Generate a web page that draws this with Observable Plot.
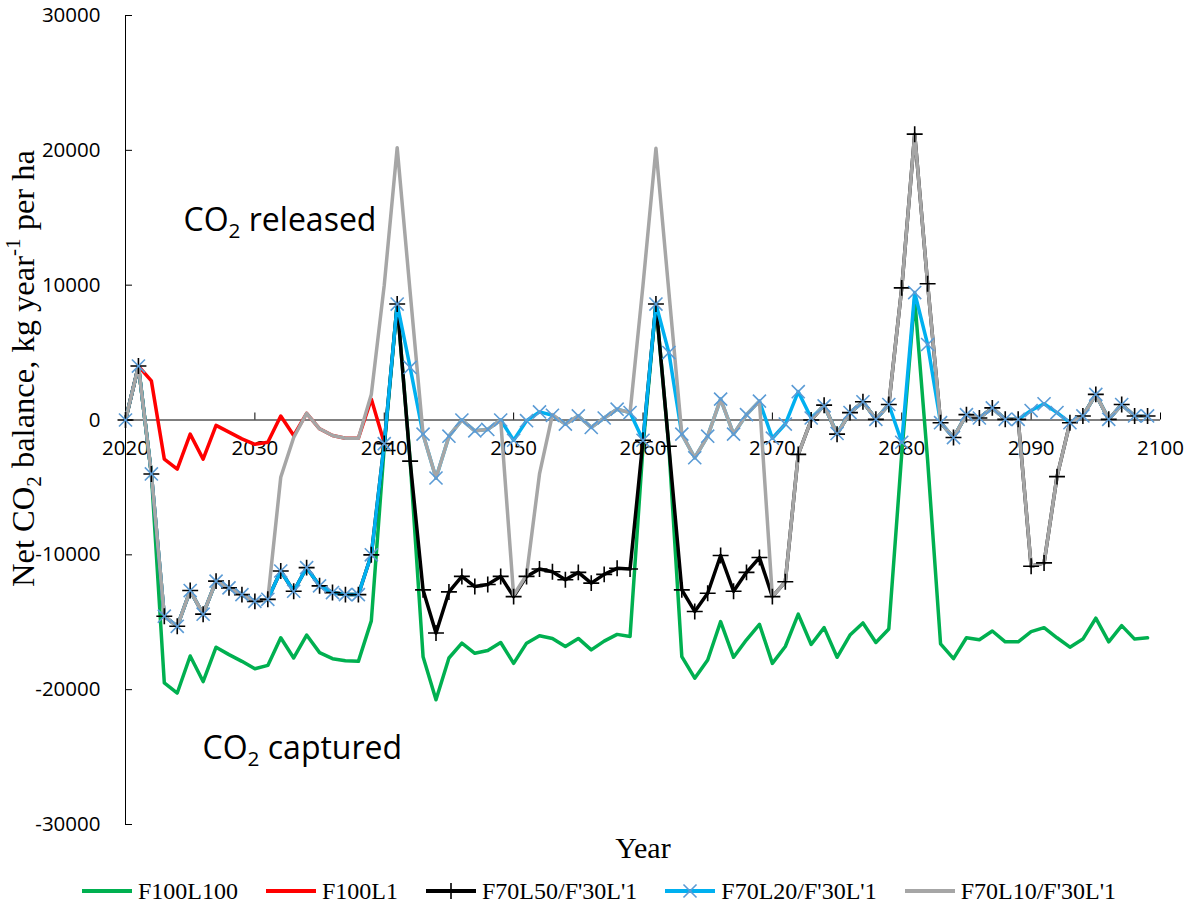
<!DOCTYPE html>
<html>
<head>
<meta charset="utf-8">
<script src="https://cdn.jsdelivr.net/npm/d3@7"></script>
<script src="https://cdn.jsdelivr.net/npm/@observablehq/plot@0.6"></script>
<style>
  body { margin: 0; background: #fff; width: 1194px; height: 910px; overflow: hidden; }
  #chart svg { display: block; }
  #legend { display: flex; justify-content: center; align-items: center; gap: 28px; height: 38px;
            padding-left: 4px;
            font-family: "Liberation Serif", "Times New Roman", serif; font-size: 24px; color: #000; }
  .item { display: flex; align-items: center; gap: 6px; white-space: nowrap; }
  .item svg { display: block; }
</style>
</head>
<body>
<div id="chart"></div>
<div id="legend"></div>
<script>
// ---- data (kg CO2 per year per ha), one value per year starting 2020 ----
const startYear = 2020;
const seriesNames = ["F100L100", "F100L1", "F70L50/F'30L'1", "F70L20/F'30L'1", "F70L10/F'30L'1"];
const xTicks = [2020, 2030, 2040, 2050, 2060, 2070, 2080, 2090, 2100];
const yTicks = [-30000, -20000, -10000, 0, 10000, 20000, 30000];

const green = [
  0, 4000, -4000, -19500, -20250, -17500, -19400, -16850, -17400, -17900,
  -18450, -18200, -16150, -17650, -15950, -17250, -17700, -17850, -17900, -14900,
  -2000, 8600, -3000, -17550, -20750, -17650, -16550, -17300, -17100, -16500,
  -18050, -16550, -16000, -16200, -16800, -16200, -17050, -16400, -15900, -16050,
  -2000, 8600, -2000, -17550, -19150, -17800, -14950, -17600, -16300, -15150,
  -18050, -16800, -14400, -16650, -15400, -17600, -15950, -15050, -16500, -15500,
  -2500, 9000, -3000, -16600, -17700, -16150, -16300, -15650, -16450, -16450,
  -15700, -15400, -16150, -16850, -16250, -14700, -16450, -15250, -16250, -16150
];
const red = [
  0, 4000, 2900, -2900, -3650, -1050, -2900, -400, -900, -1400,
  -1800, -1650, 300, -1150, 500, -650, -1150, -1350, -1350, 1550,
  -1700
];
const black = [
  0, 4000, -4000, -14550, -15300, -12650, -14400, -11950, -12450, -12950,
  -13450, -13300, -11200, -12700, -10950, -12300, -12800, -12950, -12950, -10000,
  -1750, 8600, -3050, -12600, -15800, -12750, -11600, -12350, -12200, -11600,
  -13100, -11600, -11050, -11250, -11850, -11300, -12100, -11450, -11000, -11050,
  -1500, 8600, -1950, -12600, -14200, -12850, -10050, -12700, -11300, -10200,
  -13100, -12000, -2550, 0, 1100, -1050, 550, 1350, 50, 1150,
  9800, 21200, 10100, -200, -1300, 400, 150, 900, 50, 50,
  -10850, -10600, -4200, -200, 300, 1900, 50, 1150, 300, 300
];
const blue = [
  0, 4000, -4000, -14550, -15300, -12650, -14400, -11950, -12450, -12950,
  -13450, -13300, -11200, -12700, -10950, -12300, -12800, -12950, -12950, -10000,
  -1750, 8600, 3900, -1050, -4300, -1200, 0, -800, -700, 0,
  -1500, -50, 600, 350, -300, 300, -550, 150, 800, 550,
  -1500, 8600, 5000, -1050, -2800, -1200, 1550, -1050, 400, 1400,
  -1350, -300, 2100, 150, 1050, -1000, 550, 1350, 50, 1150,
  -1650, 9450, 5600, -200, -1300, 400, 150, 900, 50, 50,
  700, 1200, 550, -200, 300, 1900, 50, 1150, 300, 300
];
const grey = [
  0, 4000, -4000, -14550, -15300, -12650, -14400, -11950, -12450, -12950,
  -13450, -13300, -4250, -1300, 500, -650, -1150, -1350, -1350, 1900,
  10000, 20200, 9500, -1050, -4300, -1200, 0, -800, -700, 0,
  -13000, -11500, -4000, 400, -300, 300, -550, 150, 800, 550,
  10000, 20150, 9500, -1050, -2800, -1200, 1550, -1050, 400, 1400,
  -13100, -12000, -2550, 0, 1100, -1050, 550, 1350, 50, 1150,
  9800, 21200, 10100, -200, -1300, 400, 150, 900, 50, 50,
  -10850, -10600, -4200, -200, 300, 1900, 50, 1150, 300, 300
];

// ---- table built from the arrays ----
const rows = green.map((g, i) => ({
  year: startYear + i,
  green: g,
  red: red[i] ?? null,
  black: black[i],
  blue: blue[i],
  grey: grey[i]
}));

const colors = {green: "#00B050", red: "#FF0000", black: "#000000", blue: "#00B0F0", grey: "#A6A6A6"};
const blueMarker = "#5B9BD5";
const sans = "'Open Sans', sans-serif";
const serif = "'Liberation Serif', 'Times New Roman', serif";
const xMin = d3.min(xTicks), xMax = d3.max(xTicks);
const yMin = d3.min(yTicks), yMax = d3.max(yTicks);

const chart = Plot.plot({
  width: 1194,
  height: 872,
  marginLeft: 125,
  marginRight: 34,
  marginTop: 15,
  marginBottom: 48,
  x: {domain: [xMin, xMax], axis: null},
  y: {domain: [yMin, yMax], axis: null},
  style: {background: "white", overflow: "visible"},
  marks: [
    // y axis
    Plot.ruleX([xMin], {y1: yMin, y2: yMax, stroke: "black", strokeWidth: 1}),
    Plot.ruleY(yTicks, {x1: xMin, x2: xMin, insetRight: -7, stroke: "black", strokeWidth: 1}),
    Plot.text(yTicks, {x: xMin, y: d => d, text: d => String(d), textAnchor: "end", dx: -25,
      fontSize: 20.5, fontFamily: sans, fill: "black"}),
    // x axis at zero
    Plot.ruleY([0], {x1: xMin, x2: xMax, stroke: "black", strokeWidth: 1}),
    Plot.ruleX(xTicks, {y1: 0, y2: 0, insetBottom: 7, stroke: "black", strokeWidth: 1}),
    Plot.text(xTicks, {x: d => d, y: 0, text: d => String(d), dy: 28.5,
      fontSize: 20.5, fontFamily: sans, fill: "black"}),
    // series lines
    Plot.line(rows, {x: "year", y: "green", stroke: colors.green, strokeWidth: 3.5}),
    Plot.line(rows, {x: "year", y: "red", stroke: colors.red, strokeWidth: 3.5}),
    Plot.line(rows, {x: "year", y: "black", stroke: colors.black, strokeWidth: 3.5}),
    Plot.line(rows, {x: "year", y: "blue", stroke: colors.blue, strokeWidth: 3.5}),
    Plot.line(rows, {x: "year", y: "grey", stroke: colors.grey, strokeWidth: 3.5}),
    // markers
    Plot.dot(rows, {x: "year", y: "black", symbol: "plus", r: 5.2, stroke: "black", strokeWidth: 1.6}),
    Plot.dot(rows, {x: "year", y: "blue", symbol: "times", r: 6, stroke: blueMarker, strokeWidth: 1.6}),
    // annotations and titles
    Plot.text(["CO2 released"], {frameAnchor: "top-left", dx: 58, dy: 215, textAnchor: "start",
      lineAnchor: "bottom", fontSize: 32, fontFamily: sans, fill: "black"}),
    Plot.text(["CO2 captured"], {frameAnchor: "top-left", dx: 77, dy: 743, textAnchor: "start",
      lineAnchor: "bottom", fontSize: 32, fontFamily: sans, fill: "black"}),
    Plot.text(["Year"], {frameAnchor: "bottom", dy: 33, lineAnchor: "bottom",
      fontSize: 30, fontFamily: serif, fill: "black"}),
    Plot.text(["Net CO2 balance, kg year-1 per ha"], {frameAnchor: "left", rotate: -90, textAnchor: "middle",
      lineAnchor: "bottom", dx: -92, dy: -51.5, fontSize: 32.5, fontFamily: serif, fill: "black"})
  ]
});
document.getElementById("chart").appendChild(chart);

// ---- sub/superscripts ----
function setRich(svg, plain, parts, fs) {
  for (const t of svg.querySelectorAll("text")) {
    if (t.textContent !== plain) continue;
    t.textContent = "";
    let shift = 0;
    for (const p of parts) {
      const ts = document.createElementNS("http://www.w3.org/2000/svg", "tspan");
      const target = p.sub ? 0.22 * fs : p.sup ? -0.42 * fs : 0;
      if (target !== shift) ts.setAttribute("dy", target - shift);
      shift = target;
      if (p.sub || p.sup) ts.setAttribute("font-size", 0.65 * fs);
      ts.textContent = p.t;
      t.appendChild(ts);
    }
  }
}
setRich(chart, "CO2 released", [{t: "CO"}, {t: "2", sub: true}, {t: " released"}], 32);
setRich(chart, "CO2 captured", [{t: "CO"}, {t: "2", sub: true}, {t: " captured"}], 32);
setRich(chart, "Net CO2 balance, kg year-1 per ha",
  [{t: "Net CO"}, {t: "2", sub: true}, {t: " balance, kg year"}, {t: "-1", sup: true}, {t: " per ha"}], 32.5);

// ---- legend ----
const legendSpec = [
  {name: seriesNames[0], color: colors.green, marker: null},
  {name: seriesNames[1], color: colors.red, marker: null},
  {name: seriesNames[2], color: colors.black, marker: {type: d3.symbolPlus, r: 5.2, stroke: "black"}},
  {name: seriesNames[3], color: colors.blue, marker: {type: d3.symbolTimes, r: 6, stroke: blueMarker}},
  {name: seriesNames[4], color: colors.grey, marker: null}
];
const legend = d3.select("#legend");
for (const s of legendSpec) {
  const item = legend.append("div").attr("class", "item");
  const sw = item.append("svg").attr("width", 50).attr("height", 20);
  sw.append("line").attr("x1", 0).attr("x2", 50).attr("y1", 10).attr("y2", 10)
    .attr("stroke", s.color).attr("stroke-width", 4).attr("stroke-linecap", "round");
  if (s.marker) {
    sw.append("path").attr("transform", "translate(25,10)")
      .attr("d", d3.symbol(s.marker.type, Math.PI * s.marker.r * s.marker.r)())
      .attr("fill", "none").attr("stroke", s.marker.stroke).attr("stroke-width", 1.6);
  }
  item.append("span").text(s.name);
}
</script>
</body>
</html>
